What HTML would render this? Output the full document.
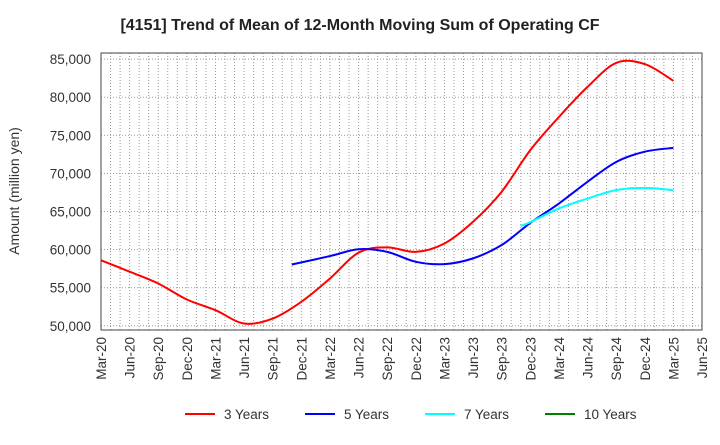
<!DOCTYPE html>
<html><head><meta charset="utf-8"><style>
body{margin:0;background:#fff;font-family:"Liberation Sans",Arial,sans-serif;}
svg text{font-family:"Liberation Sans",Arial,sans-serif;}
</style></head><body>
<svg id="chart" width="720" height="440" xmlns="http://www.w3.org/2000/svg">
<text x="360" y="30" text-anchor="middle" font-size="16" font-weight="bold" fill="#222">[4151]  Trend of Mean of 12-Month Moving Sum of Operating CF</text>
<text transform="translate(19,191) rotate(-90)" text-anchor="middle" font-size="14" fill="#333">Amount (million yen)</text>
<g id="grid"></g><g id="axes"></g><g id="series"></g><g id="legend"></g>
</svg>
<script>
const xLabels=["Mar-20","Jun-20","Sep-20","Dec-20","Mar-21","Jun-21","Sep-21","Dec-21","Mar-22","Jun-22","Sep-22","Dec-22","Mar-23","Jun-23","Sep-23","Dec-23","Mar-24","Jun-24","Sep-24","Dec-24","Mar-25","Jun-25"];
const yTicks=[50000,55000,60000,65000,70000,75000,80000,85000];
const seriesNames=["3 Years","5 Years","7 Years","10 Years"];
const seriesColors=["#ff0000","#0000ff","#00ffff","#008000"];
const months3=[0,3,6,9,12,15,18,21,24,27,30,33,36,39,42,45,48,51,54,57,60];
const values3=[58600,57100,55550,53450,52050,50300,50950,53150,56200,59600,60300,59700,60800,63650,67600,73050,77400,81350,84500,84350,82150];
const months5=[20,24,27,30,33,36,39,42,45,48,51,54,57,60];
const values5=[58050,59150,60050,59700,58400,58100,58850,60600,63500,66050,68900,71500,72850,73350];
const months7=[44,45,48,51,54,57,60];
const values7=[63100,63600,65400,66700,67800,68100,67800];
const months10=[];
const values10=[];

const L=101,R=702,T=53,B=330;
const yMin=49450,yMax=85800;
const X=m=>L+(R-L)*m/63;
const Y=v=>B-(v-yMin)/(yMax-yMin)*(B-T);
const NS="http://www.w3.org/2000/svg";
function mk(tag,attrs,parent){const e=document.createElementNS(NS,tag);for(const k in attrs)e.setAttribute(k,attrs[k]);parent.appendChild(e);return e;}
const grid=document.getElementById('grid'),axes=document.getElementById('axes'),ser=document.getElementById('series'),leg=document.getElementById('legend');
for(let m=1;m<63;m++){
 const l=mk('line',{x1:X(m),x2:X(m),y1:T,y2:B,stroke:'#999','stroke-width':1,'stroke-dasharray':'1,2'},grid);
 
 
}
yTicks.forEach(v=>{
 const l=mk('line',{x1:L,x2:R,y1:Y(v),y2:Y(v),stroke:'#999','stroke-width':1,'stroke-dasharray':'1,2'},grid);
 
 
 const t=mk('text',{x:91,y:Y(v)+5,'text-anchor':'end','font-size':13.5,fill:'#333'},axes);
 t.textContent=v.toLocaleString('en-US');
 
 
});
xLabels.forEach((s,i)=>{
 const x=X(i*3);
 const t=mk('text',{transform:`translate(${x+5},337) rotate(-90)`,'text-anchor':'end','font-size':13.5,fill:'#333'},axes);
 t.textContent=s;
 
 
});
const frame=mk('rect',{x:L,y:T,width:R-L,height:B-T,fill:'none',stroke:'#444','stroke-width':1},axes);


function path(ms,vs){
 const p=ms.map((m,i)=>[X(m),Y(vs[i])]);
 if(!p.length)return '';
 let d=`M${p[0][0]},${p[0][1]}`;
 for(let i=0;i<p.length-1;i++){
  const p0=p[i-1]||p[i],p1=p[i],p2=p[i+1],p3=p[i+2]||p2;
  const c1=[p1[0]+(p2[0]-p0[0])/6,p1[1]+(p2[1]-p0[1])/6];
  const c2=[p2[0]-(p3[0]-p1[0])/6,p2[1]-(p3[1]-p1[1])/6];
  d+=`C${c1[0]},${c1[1]} ${c2[0]},${c2[1]} ${p2[0]},${p2[1]}`;
 }
 return d;
}
const all=[[months3,values3],[months5,values5],[months7,values7],[months10,values10]];
all.forEach((s,i)=>{
 if(!s[0].length)return;
 const p=mk('path',{d:path(s[0],s[1]),fill:'none',stroke:seriesColors[i],'stroke-width':2},ser);
 
 
});
seriesNames.forEach((n,i)=>{
 const x0=185+i*120;
 const g=mk('g',{},leg);
 
 
 mk('line',{x1:x0,x2:x0+30,y1:414,y2:414,stroke:seriesColors[i],'stroke-width':2},g);
 const t=mk('text',{x:x0+39,y:419,'font-size':13.5,fill:'#333'},g);
 t.textContent=n;
});
</script>
</body></html>
